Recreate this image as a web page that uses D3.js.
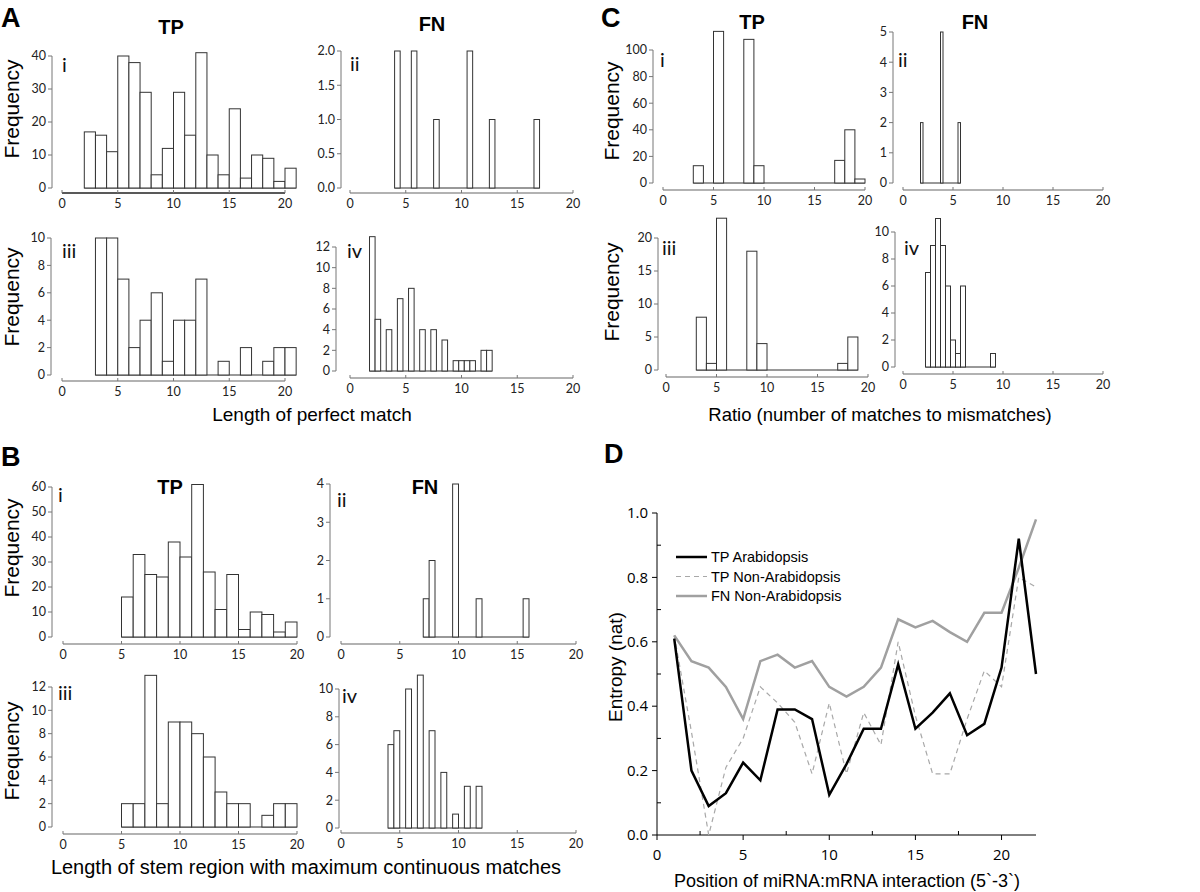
<!DOCTYPE html>
<html><head><meta charset="utf-8">
<script src="https://cdn.jsdelivr.net/npm/d3@7"></script>
<style>body{margin:0;background:#fff}</style>
</head><body>
<svg id="c" width="1200" height="892"></svg>
<script>
// ---------------- DATA ----------------
const xTickVals = [0, 5, 10, 15, 20];

// A: Length of perfect match
const aiBins = [2,3,4,5,6,7,8,9,10,11,12,13,14,15,16,17,18,19,20];
const aiCounts = [17,16,11,40,38,29,4,12,29,16,41,10,4,24,3,10,9,2,6];
const aiiBins = [4,5.5,7.5,10.5,12.5,16.5];
const aiiCounts = [2,2,1,2,1,1];
const aiiiBins = [3,4,5,6,7,8,9,10,11,12,13,14,15,16,17,18,19,20];
const aiiiCounts = [10,10,7,2,4,6,1,4,4,7,0,1,0,2,0,1,2,2];
const aivBins = [1.75,2.25,3.25,4.25,5.25,6.25,7.25,8.25,9.25,9.75,10.25,10.75,11.75,12.25];
const aivCounts = [13,5,4,7,8,4,4,3,1,1,1,1,2,2];

// B: Length of stem region with maximum continuous matches
const biBins = [5,6,7,8,9,10,11,12,13,14,15,16,17,18,19];
const biCounts = [16,33,25,24,38,32,61,26,11,25,3,10,9,2,6];
const biiBins = [7,7.5,9.5,11.5,15.5];
const biiCounts = [1,2,4,1,1];
const biiiBins = [5,6,7,8,9,10,11,12,13,14,15,16,17,18,19];
const biiiCounts = [2,2,13,2,9,9,8,6,3,2,2,0,1,2,2];
const bivBins = [4,4.5,5.5,6.5,7.5,8.5,9.5,10.5,11.5];
const bivCounts = [6,7,10,11,7,4,1,3,3];

// C: Ratio (number of matches to mismatches)
const ciBins = [3,5,8,9,17,18,19];
const ciCounts = [13,114,108,13,17,40,3];
const ciiBins = [1.75,3.75,5.5];
const ciiCounts = [2,5,2];
const ciiiBins = [3,4,5,8,9,17,18];
const ciiiCounts = [8,1,23,18,4,1,5];
const civBins = [2.25,2.75,3.25,3.75,4.25,4.75,5.25,5.75,8.75];
const civCounts = [7,9,11,9,6,2,1,6,1];

// D: entropy per position
const positions = [1,2,3,4,5,6,7,8,9,10,11,12,13,14,15,16,17,18,19,20,21,22];
const tpArabidopsis = [0.61,0.20,0.09,0.13,0.225,0.17,0.39,0.39,0.36,0.125,0.22,0.33,0.33,0.53,0.33,0.38,0.44,0.31,0.345,0.52,0.92,0.50];
const tpNonArabidopsis = [0.62,0.32,0.0,0.21,0.30,0.46,0.41,0.35,0.19,0.41,0.19,0.38,0.28,0.60,0.37,0.19,0.19,0.36,0.51,0.46,0.80,0.77];
const fnNonArabidopsis = [0.62,0.54,0.52,0.46,0.36,0.54,0.56,0.52,0.54,0.46,0.43,0.46,0.52,0.67,0.645,0.665,0.63,0.60,0.69,0.69,0.83,0.98];
const legendLabels = ["TP Arabidopsis","TP Non-Arabidopsis","FN Non-Arabidopsis"];

// ---------------- DRAW ----------------
const svg = d3.select("#c");
const tickFont = "Lato, 'Open Sans', sans-serif";
const arial = "'Liberation Sans', Arial, sans-serif";

function hist(cfg, bins, counts, bw) {
  const g = svg.append("g");
  const x = d3.scaleLinear().domain([0,20]).range(cfg.xr);
  const y = d3.scaleLinear().domain([0,cfg.ymax]).range([cfg.y0, cfg.ytop]);
  // y axis
  g.append("line").attr("x1",cfg.ax).attr("x2",cfg.ax).attr("y1",y(0)).attr("y2",y(cfg.ymax))
    .attr("stroke","#777").attr("stroke-width",1);
  const yt = d3.range(0, cfg.ymax + 1e-9, cfg.ystep);
  g.selectAll(".yt").data(yt).enter().append("line")
    .attr("x1",cfg.ax-4).attr("x2",cfg.ax).attr("y1",d=>y(d)).attr("y2",d=>y(d))
    .attr("stroke","#777");
  g.selectAll(".yl").data(yt).enter().append("text")
    .attr("x",cfg.ax-6).attr("y",d=>y(d)).attr("dy","0.35em").attr("text-anchor","end")
    .attr("font-family",tickFont).attr("font-size",12.5).attr("fill","#222")
    .text(d=>cfg.yfmt ? d3.format(cfg.yfmt)(d) : d);
  // x axis (separate line below)
  g.append("line").attr("x1",x(0)).attr("x2",x(20)).attr("y1",cfg.xa).attr("y2",cfg.xa)
    .attr("stroke",cfg.xaDark ? "#222" : "#666").attr("stroke-width",cfg.xaDark ? 1.6 : 1.2);
  g.selectAll(".xt").data(xTickVals).enter().append("line")
    .attr("x1",d=>x(d)).attr("x2",d=>x(d)).attr("y1",cfg.xa-3).attr("y2",cfg.xa)
    .attr("stroke","#777");
  g.selectAll(".xl").data(xTickVals).enter().append("text")
    .attr("x",d=>x(d)).attr("y",cfg.xa+15).attr("text-anchor","middle")
    .attr("font-family",tickFont).attr("font-size",12.5).attr("fill","#222").text(d=>d);
  // baseline
  const lo = d3.min(bins), hi = d3.max(bins) + bw;
  g.append("line").attr("x1",x(lo)).attr("x2",x(hi)).attr("y1",y(0)).attr("y2",y(0))
    .attr("stroke","#333").attr("stroke-width",1);
  // bars
  g.selectAll(".bar").data(bins.map((b,i)=>({b, v:counts[i]})).filter(d=>d.v>0)).enter().append("rect")
    .attr("x",d=>x(d.b)).attr("width",d=>x(d.b+bw)-x(d.b))
    .attr("y",d=>y(d.v)).attr("height",d=>y(0)-y(d.v))
    .attr("fill","#fff").attr("stroke","#333").attr("stroke-width",1);
  // roman label
  g.append("text").attr("x",cfg.lx).attr("y",cfg.ly).attr("font-family",tickFont)
    .attr("font-size",20).attr("fill","#111").text(cfg.label);
}

hist({ax:52, y0:188, ytop:56, ymax:40, ystep:10, xa:193, xr:[62,285], label:"i", lx:62, ly:72, xaDark:true}, aiBins, aiCounts, 1);
hist({ax:341, y0:188, ytop:51, ymax:2, ystep:0.5, yfmt:".1f", xa:193, xr:[350,573], label:"ii", lx:350, ly:71}, aiiBins, aiiCounts, 0.5);
hist({ax:51, y0:375, ytop:238, ymax:10, ystep:2, xa:381, xr:[62,285], label:"iii", lx:62, ly:258}, aiiiBins, aiiiCounts, 1);
hist({ax:336, y0:371, ytop:247, ymax:12, ystep:2, xa:378, xr:[350,573], label:"iv", lx:347, ly:258}, aivBins, aivCounts, 0.5);

hist({ax:52, y0:637, ytop:487, ymax:60, ystep:10, xa:644, xr:[63,297], label:"i", lx:58, ly:502}, biBins, biCounts, 1);
hist({ax:330, y0:637, ytop:484, ymax:4, ystep:1, xa:644, xr:[341,576], label:"ii", lx:337, ly:507}, biiBins, biiCounts, 0.5);
hist({ax:52, y0:827, ytop:687, ymax:12, ystep:2, xa:834, xr:[63,297], label:"iii", lx:58, ly:700}, biiiBins, biiiCounts, 1);
hist({ax:339, y0:828, ytop:689, ymax:10, ystep:2, xa:833, xr:[341,576], label:"iv", lx:342, ly:703}, bivBins, bivCounts, 0.5);

hist({ax:653, y0:183, ytop:50, ymax:100, ystep:20, xa:190, xr:[663,865], label:"i", lx:660, ly:67}, ciBins, ciCounts, 1);
hist({ax:893, y0:183, ytop:32, ymax:5, ystep:1, xa:190, xr:[903,1103], label:"ii", lx:898, ly:67}, ciiBins, ciiCounts, 0.25);
hist({ax:658, y0:370, ytop:238, ymax:20, ystep:5, xa:377, xr:[666,868], label:"iii", lx:662, ly:255}, ciiiBins, ciiiCounts, 1);
hist({ax:895, y0:367, ytop:232, ymax:10, ystep:2, xa:374, xr:[903,1103], label:"iv", lx:904, ly:255}, civBins, civCounts, 0.5);

// Text: panel letters, group titles, axis titles
function txt(x,y,s,size,weight,anchor,rot){
  const t = svg.append("text").attr("font-family",arial).attr("font-size",size)
    .attr("font-weight",weight||"normal").attr("fill","#000")
    .attr("text-anchor",anchor||"start").text(s);
  if (rot) t.attr("transform",`translate(${x},${y}) rotate(-90)`).attr("dy","0.35em");
  else t.attr("x",x).attr("y",y);
  return t;
}
txt(1,27,"A",27,"bold");
txt(1,466,"B",27,"bold");
txt(601,27,"C",27,"bold");
txt(604,463,"D",27,"bold");

txt(171,34,"TP",20,"bold","middle");
txt(432,31,"FN",20,"bold","middle");
txt(170,494,"TP",20,"bold","middle");
txt(425,494,"FN",20,"bold","middle");
txt(752,29,"TP",20,"bold","middle");
txt(975,29,"FN",20,"bold","middle");

[[12,109],[12,297],[12,548],[12,751],[612,111],[612,292]].forEach(p=>txt(p[0],p[1],"Frequency",21,"normal","middle",true));

txt(312,421,"Length of perfect match",19,"normal","middle");
txt(880,421,"Ratio (number of matches to mismatches)",18.5,"normal","middle");
txt(306,874,"Length of stem region with maximum continuous matches",20,"normal","middle");

// ---------------- Panel D ----------------
const dx = d3.scaleLinear().domain([0,22]).range([657,1036]);
const dy = d3.scaleLinear().domain([0,1]).range([835,513]);
const gD = svg.append("g");
gD.append("line").attr("x1",dx(0)).attr("x2",dx(22)).attr("y1",dy(0)).attr("y2",dy(0)).attr("stroke","#000");
gD.append("line").attr("x1",dx(0)).attr("x2",dx(0)).attr("y1",dy(0)).attr("y2",dy(1)).attr("stroke","#000");
const dxMajor = [0,5,10,15,20], dxMinor = [2.5,7.5,12.5,17.5];
const dyMajor = [0,0.2,0.4,0.6,0.8,1.0], dyMinor = [0.1,0.3,0.5,0.7,0.9];
gD.selectAll(".xm").data(dxMajor).enter().append("line").attr("x1",d=>dx(d)).attr("x2",d=>dx(d))
  .attr("y1",dy(0)).attr("y2",dy(0)+5).attr("stroke","#000");
gD.selectAll(".xn").data(dxMinor).enter().append("line").attr("x1",d=>dx(d)).attr("x2",d=>dx(d))
  .attr("y1",dy(0)).attr("y2",dy(0)-4).attr("stroke","#000");
gD.selectAll(".ym").data(dyMajor).enter().append("line").attr("x1",dx(0)-5).attr("x2",dx(0))
  .attr("y1",d=>dy(d)).attr("y2",d=>dy(d)).attr("stroke","#000");
gD.selectAll(".yn").data(dyMinor).enter().append("line").attr("x1",dx(0)).attr("x2",dx(0)+4)
  .attr("y1",d=>dy(d)).attr("y2",d=>dy(d)).attr("stroke","#000");
gD.selectAll(".xlab").data(dxMajor).enter().append("text").attr("x",d=>dx(d)).attr("y",dy(0)+25)
  .attr("text-anchor","middle").attr("font-family","'Open Sans', sans-serif").attr("font-size",15).text(d=>d);
gD.selectAll(".ylab").data(dyMajor).enter().append("text").attr("x",dx(0)-9).attr("y",d=>dy(d))
  .attr("dy","0.35em").attr("text-anchor","end").attr("font-family","'Open Sans', sans-serif").attr("font-size",15)
  .text(d=>d3.format(".1f")(d));

const series = [
  {vals: fnNonArabidopsis, color:"#a0a0a0", w:2.5, dash:null},
  {vals: tpNonArabidopsis, color:"#a8a8a8", w:1.2, dash:"5,4"},
  {vals: tpArabidopsis, color:"#000", w:2.5, dash:null}
];
const line = d3.line().x((d,i)=>dx(positions[i])).y(d=>dy(d));
series.forEach(s=>{
  gD.append("path").datum(s.vals).attr("d",line).attr("fill","none")
    .attr("stroke",s.color).attr("stroke-width",s.w).attr("stroke-dasharray",s.dash)
    .attr("stroke-linejoin","miter");
});
const legStyles = [
  {color:"#000", w:2.5, dash:null},
  {color:"#a8a8a8", w:1.2, dash:"5,4"},
  {color:"#a0a0a0", w:2.5, dash:null}
];
legendLabels.forEach((lab,i)=>{
  const yy = 557 + i*19.5;
  gD.append("line").attr("x1",676).attr("x2",707).attr("y1",yy).attr("y2",yy)
    .attr("stroke",legStyles[i].color).attr("stroke-width",legStyles[i].w).attr("stroke-dasharray",legStyles[i].dash);
  gD.append("text").attr("x",711).attr("y",yy+5).attr("font-family",arial).attr("font-size",14.5).text(lab);
});
txt(615,667,"Entropy (nat)",19,"normal","middle",true);
txt(847,887,"Position of miRNA:mRNA interaction (5`-3`)",18,"normal","middle");
</script>
</body></html>
